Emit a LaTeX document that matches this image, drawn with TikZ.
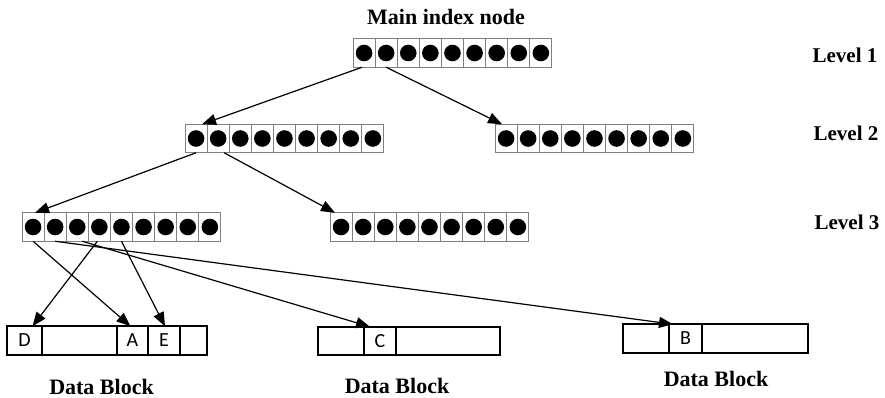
\documentclass[tikz,border=0pt]{standalone}
\usepackage{fontspec}
\setmainfont{Liberation Serif}
\newfontfamily\cellfont{Carlito}
\usetikzlibrary{arrows.meta,positioning}

\tikzset{
idx/.style={draw=gray, line width=0.9pt, minimum width=22.1pt, minimum height=28.5pt, inner sep=0pt, outer sep=0pt},
dcell/.style={draw, line width=1.9pt, minimum height=28.5pt, inner sep=0pt, outer sep=0pt, font=\cellfont\fontsize{20}{20}\selectfont},
lbl/.style={font=\bfseries\fontsize{21}{21}\selectfont},
arr/.style={-{Triangle[length=14pt,width=11pt]}, line width=1.2pt},
}

% one index node: nine cells, each with a dot
\newcommand\idxnode[3]{%
\foreach \i in {1,...,9}{
\node[idx] (#1-\i) at ({#2+(\i-0.5)*22.1},#3) {};
\fill (#1-\i.center) circle (8.3pt);
}}

\begin{document}
\begin{tikzpicture}[x=1pt, y=-1pt]
\useasboundingbox (0,0) rectangle (885,398);

\node[lbl, font=\bfseries\fontsize{22}{22}\selectfont] (title) at (446,16.5) {Main index node};

\idxnode{l1}{353}{53}
\idxnode{l2a}{185}{138.5}
\idxnode{l2b}{495}{138.5}
\idxnode{l3a}{22}{227}
\idxnode{l3b}{330}{227}

\node[lbl] (lev1) at (845,55.5) {Level 1};
\node[lbl] (lev2) at (846,133) {Level 2};
\node[lbl] (lev3) at (847,222) {Level 3};

% data blocks
\node[dcell, minimum width=35pt, anchor=west] (D) at (7,340.5) {D};
\node[dcell, minimum width=75pt, right=0pt of D] (g1) {};
\node[dcell, minimum width=31pt, right=0pt of g1] (A) {A};
\node[dcell, minimum width=32pt, right=0pt of A] (E) {E};
\node[dcell, minimum width=27pt, right=0pt of E] (g2) {};

\node[dcell, minimum width=46pt, anchor=west] (g3) at (318,341) {};
\node[dcell, minimum width=32pt, right=0pt of g3] (C) {C};
\node[dcell, minimum width=104pt, right=0pt of C] (g4) {};

\node[dcell, minimum width=46pt, anchor=west] (g5) at (623,338.5) {};
\node[dcell, minimum width=33pt, right=0pt of g5] (B) {B};
\node[dcell, minimum width=106pt, right=0pt of B] (g6) {};

\node[lbl, font=\bfseries\fontsize{22}{22}\selectfont] (db1) at (101.5,386.5) {Data Block};
\node[lbl, font=\bfseries\fontsize{22}{22}\selectfont] (db2) at (397,386) {Data Block};
\node[lbl, font=\bfseries\fontsize{22}{22}\selectfont] (db3) at (716,379) {Data Block};

% pointers
\draw[arr] ([xshift=-2pt]l1-1.south) -- ([xshift=6pt]l2a-1.north);
\draw[arr] (l1-2.south) -- ([xshift=-4pt]l2b-1.north);
\draw[arr] (l2a-1.south) -- ([xshift=2pt]l3a-1.north);
\draw[arr] ([xshift=6pt]l2a-2.south) -- ([xshift=-6pt]l3b-1.north);
\draw[arr] (l3a-1.south) -- ([xshift=-2pt]A.north);
\draw[arr] ([xshift=-2pt]l3a-4.south) -- ([xshift=8pt]D.north);
\draw[arr] (l3a-5.south) -- ([xshift=1pt]E.north);
\draw[arr] (l3a-2.south) -- ([xshift=4pt]B.north west);
\draw[arr] ([xshift=5pt]l3a-3.south) -- ([xshift=6pt]C.north west);
\end{tikzpicture}
\end{document}
